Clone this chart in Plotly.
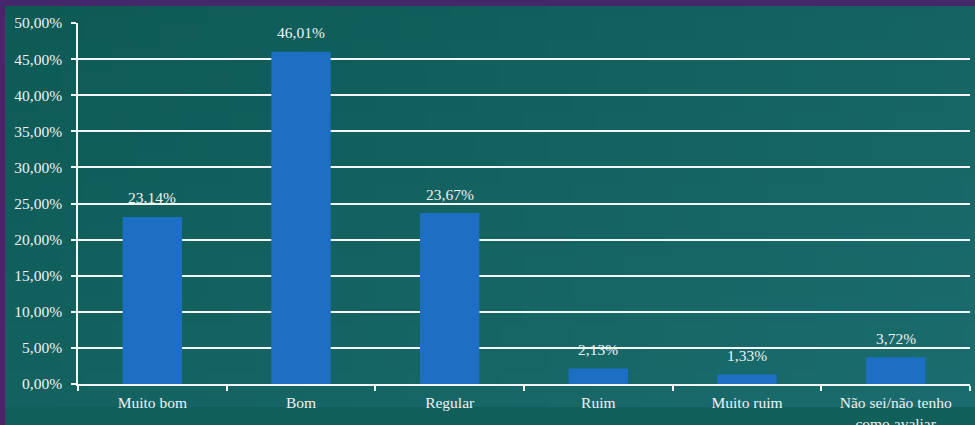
import base64, struct, zlib
import plotly.graph_objects as go

categories = ["Muito bom", "Bom", "Regular", "Ruim", "Muito ruim", "Não sei/não tenho<br>como avaliar"]
values = [0.2314, 0.4601, 0.2367, 0.0213, 0.0133, 0.0372]
y_ticks = [0, 0.05, 0.10, 0.15, 0.20, 0.25, 0.30, 0.35, 0.40, 0.45, 0.50]

font_family = "Liberation Serif"
font_size = 15.5
text_color = "#eef2f1"
line_color = "#f4f6f5"

W, H = 975, 425
ML, MR, MT, MB = 78, 5, 23, 41
plot_w = W - ML - MR
plot_h = H - MT - MB


def gradient_png(w, h, c0, c1):
    rows = b""
    for j in range(h):
        row = b"\x00"
        for i in range(w):
            t = (i / (w - 1)) * 0.55 + (j / (h - 1)) * 0.45
            px = bytes(int(round(a + (b - a) * t)) for a, b in zip(c0, c1))
            row += px
        rows += row
    def chunk(tag, data):
        c = tag + data
        return struct.pack(">I", len(data)) + c + struct.pack(">I", zlib.crc32(c) & 0xffffffff)
    png = b"\x89PNG\r\n\x1a\n" + chunk(b"IHDR", struct.pack(">IIBBBBB", w, h, 8, 2, 0, 0, 0))
    png += chunk(b"IDAT", zlib.compress(rows)) + chunk(b"IEND", b"")
    return "data:image/png;base64," + base64.b64encode(png).decode()


bg = gradient_png(40, 18, (13, 90, 85), (27, 108, 110))

fig = go.Figure(go.Bar(
    x=categories, y=values,
    marker=dict(color="#1c6fc3", line=dict(width=0)),
    width=0.4,
    hoverinfo="x+y",
))

for c, v in zip(categories, values):
    fig.add_annotation(x=c, y=v, text=f"{v*100:.2f}%".replace(".", ","),
                       showarrow=False, yanchor="middle", yshift=19,
                       font=dict(family=font_family, size=font_size, color=text_color))

fig.update_layout(
    width=W, height=H,
    margin=dict(l=ML, r=MR, t=MT, b=MB, autoexpand=False),
    paper_bgcolor="#115f5a",
    plot_bgcolor="rgba(0,0,0,0)",
    separators=",.",
    showlegend=False,
    font=dict(family=font_family, size=font_size, color=text_color),
    xaxis=dict(
        automargin=False,
        showline=True, linecolor=line_color, linewidth=1.5,
        ticks="outside", tickson="boundaries", ticklen=5, tickcolor=line_color, tickwidth=1.5,
        ticklabelstandoff=4,
        showgrid=False, tickfont=dict(family=font_family, size=font_size, color=text_color),
    ),
    yaxis=dict(
        automargin=False,
        range=[0, 0.5], tickvals=y_ticks, tickformat=".2%",
        showline=True, linecolor=line_color, linewidth=1.5,
        ticks="outside", ticklen=5, tickcolor=line_color, tickwidth=1.5,
        ticklabelstandoff=6,
        showgrid=True, gridcolor=line_color, gridwidth=1.5, zeroline=False,
        tickfont=dict(family=font_family, size=font_size, color=text_color),
    ),
    images=[dict(source=bg, xref="paper", yref="paper",
                 x=-ML / plot_w, y=(H - MT) / plot_h,
                 sizex=W / plot_w, sizey=H / plot_h,
                 xanchor="left", yanchor="top", sizing="stretch", layer="below")],
)

# Purple frame at top and left edges
fig.add_shape(type="rect", xref="paper", yref="paper",
              x0=-ML / plot_w, x1=(W - ML) / plot_w,
              y0=(H - MB - 6) / plot_h, y1=(H - MB) / plot_h,
              fillcolor="#45286b", line=dict(width=0), layer="below")
fig.add_shape(type="rect", xref="paper", yref="paper",
              x0=-ML / plot_w, x1=(-ML + 5) / plot_w,
              y0=-MB / plot_h, y1=(H - MB) / plot_h,
              fillcolor="#45286b", line=dict(width=0), layer="below")

fig.write_html("out.html",
               config={"displayModeBar": False},
               post_script="document.body.style.margin='0';document.body.style.overflow='hidden';")
